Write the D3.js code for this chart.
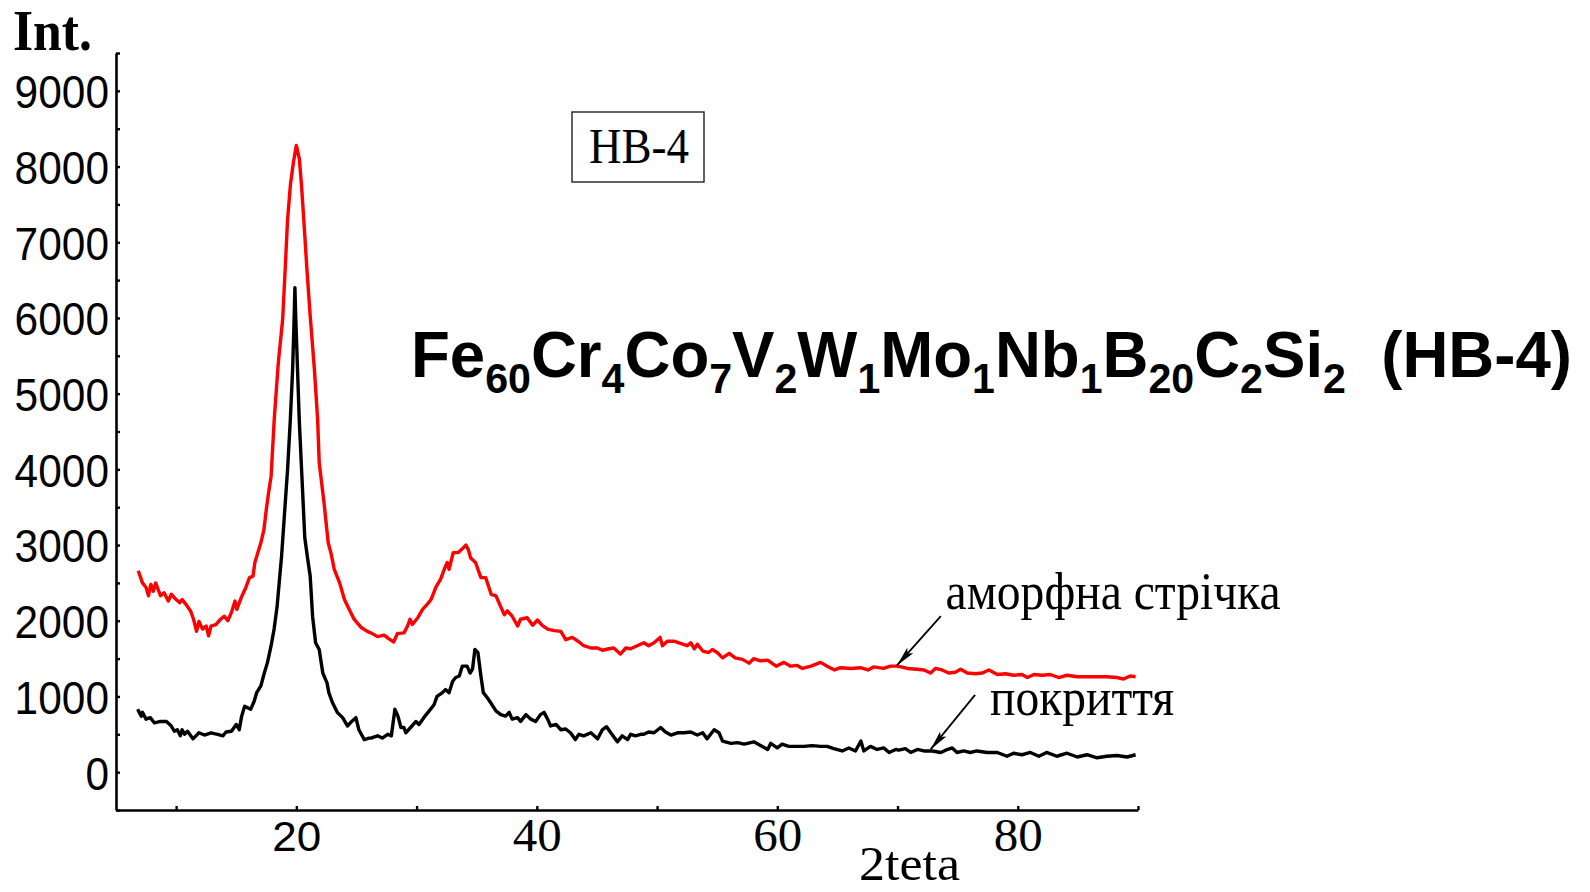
<!DOCTYPE html>
<html>
<head>
<meta charset="utf-8">
<script src="https://cdn.jsdelivr.net/npm/d3@7/dist/d3.min.js"></script>
<style>
  html, body { margin: 0; padding: 0; background: #fff; }
  svg { display: block; }
</style>
</head>
<body>
<svg id="chart" width="1590" height="892"></svg>
<script>
// XRD patterns of the Fe60Cr4Co7V2W1Mo1Nb1B20C2Si2 alloy (HB-4)
// 2theta angle, degrees
const ribbonAngle = [6.85,7.2,7.5,7.7,7.9,8.1,8.3,8.7,9.0,9.35,9.6,10.0,10.3,10.5,10.8,11.2,11.45,11.7,11.9,12.2,12.5,12.7,12.9,13.3,13.7,14.0,14.3,14.6,14.9,15.05,15.4,15.8,16.1,16.4,16.55,16.8,17.05,17.3,17.5,17.7,17.9,18.16,18.5,18.86,19.07,19.27,19.5,19.75,20.0,20.25,20.43,20.65,20.88,21.15,21.5,21.77,21.9,22.3,22.65,22.9,23.15,23.6,24.0,24.4,24.8,25.4,25.9,26.2,26.75,27.3,27.7,28.1,28.4,28.95,29.25,29.45,29.65,30.1,30.5,30.9,31.2,31.6,32.0,32.35,32.55,32.7,33.05,33.45,33.8,34.1,34.3,34.5,34.9,35.35,35.75,36.2,36.6,36.9,37.3,37.55,37.95,38.4,38.65,39.2,39.65,40.05,40.45,40.9,41.45,42.0,42.4,42.95,43.5,43.9,44.5,45.05,45.45,46.0,46.4,46.95,47.4,47.8,48.35,48.9,49.3,49.75,50.25,50.45,50.85,51.4,51.95,52.5,52.8,53.1,53.35,53.8,54.3,54.6,55.0,55.45,56.0,56.5,57.1,57.65,58.05,58.6,59.2,59.9,60.55,61.1,61.65,62.1,62.8,63.6,64.15,64.75,65.25,66.1,66.9,67.55,68.0,68.85,69.4,69.95,70.3,70.8,71.65,72.2,72.75,73.15,73.7,74.25,74.8,75.25,75.8,76.5,77.05,77.6,78.3,79.0,79.65,80.35,80.8,81.35,82.05,82.7,83.4,84.1,84.95,85.75,86.6,87.4,88.25,88.8,89.35,89.8];
// intensity of the amorphous ribbon
const ribbonInt = [2660,2500,2440,2330,2480,2390,2500,2330,2370,2260,2350,2280,2240,2280,2220,2130,2020,1860,1990,1890,1930,1800,1930,1950,2020,2060,2000,2110,2260,2150,2300,2440,2570,2590,2770,2900,3030,3200,3470,3700,3910,4660,5410,5980,6640,7300,7750,8050,8280,8100,7750,7220,6640,6030,5320,4660,4090,3560,3030,2880,2680,2500,2280,2150,2020,1910,1860,1840,1790,1810,1760,1720,1830,1840,1930,2020,1950,2040,2150,2220,2280,2440,2550,2700,2770,2680,2900,2900,2950,3000,2940,2830,2770,2570,2570,2350,2330,2220,2080,2130,2060,1930,2020,2040,1940,2010,1940,1890,1870,1860,1750,1780,1720,1670,1640,1640,1610,1630,1640,1560,1640,1630,1670,1710,1670,1710,1780,1670,1730,1730,1700,1670,1710,1630,1690,1600,1580,1620,1580,1510,1570,1510,1490,1440,1500,1470,1480,1400,1450,1400,1410,1370,1400,1450,1400,1350,1380,1370,1380,1350,1390,1370,1400,1400,1390,1370,1360,1350,1310,1370,1350,1310,1320,1360,1310,1300,1310,1350,1290,1300,1280,1290,1250,1290,1280,1290,1250,1280,1260,1260,1260,1260,1250,1230,1270,1260];

const coatingAngle = [6.8,7.1,7.2,7.5,7.85,8.2,8.7,9.2,9.6,9.85,10.1,10.35,10.5,10.7,10.95,11.4,11.9,12.35,12.9,13.45,13.9,14.15,14.6,15.0,15.25,15.45,15.7,16.2,16.5,16.7,17.05,17.3,17.6,17.9,18.15,18.4,18.6,18.77,19.0,19.27,19.5,19.69,19.8,19.88,19.95,20.05,20.24,20.46,20.7,20.93,21.15,21.35,21.6,21.9,22.2,22.55,22.7,23.0,23.4,23.85,24.25,24.6,24.95,25.2,25.65,26.05,26.2,26.75,27.15,27.6,27.9,28.2,28.45,28.7,28.95,29.1,29.5,29.95,30.2,30.6,31.05,31.45,31.7,32.15,32.4,32.7,33.0,33.25,33.55,33.8,34.2,34.45,34.65,34.85,35.1,35.35,35.55,35.9,36.15,36.6,37.0,37.4,37.7,37.95,38.4,38.65,39.1,39.5,39.9,40.3,40.6,40.9,41.15,41.6,42.0,42.4,42.8,43.2,43.5,43.9,44.5,45.05,45.45,45.8,46.15,46.7,47.1,47.55,47.8,48.2,48.65,48.9,49.3,49.75,50.3,50.7,51.15,51.7,52.25,52.8,53.35,53.8,54.15,54.75,55.15,55.45,56.15,56.7,57.25,58.05,58.75,59.2,59.45,60.0,60.4,60.95,61.65,62.2,62.9,63.6,64.15,64.7,65.4,65.95,66.5,66.95,67.2,67.75,68.3,68.85,69.3,69.85,70.1,70.65,71.1,71.65,72.2,72.9,73.6,74.0,74.55,74.95,75.5,76.05,76.6,77.45,78.3,79.1,79.65,80.35,81.05,81.75,82.4,83.25,84.1,84.95,85.75,86.6,87.4,88.25,89.1,89.8];
// intensity of the coating
const coatingInt = [830,740,790,700,720,650,670,670,610,540,560,480,560,500,540,440,520,490,520,500,480,530,540,630,560,740,870,830,940,1050,1140,1290,1450,1670,1890,2190,2550,2850,3380,4000,4660,5320,5900,6400,6000,5540,4660,3910,3100,2830,2590,2060,1710,1620,1310,1180,1050,920,790,720,610,670,720,560,430,450,450,480,450,500,480,830,740,590,590,520,590,670,630,720,810,890,1000,1050,1090,1050,1200,1250,1270,1400,1400,1310,1360,1620,1580,1270,1050,980,920,810,760,740,790,700,720,670,760,700,670,760,790,700,610,630,560,570,520,430,500,480,520,440,560,600,520,400,480,430,500,480,500,500,530,520,590,530,490,520,520,530,490,520,440,560,520,410,380,390,370,400,340,300,380,320,370,340,340,340,350,340,340,310,280,320,280,410,280,340,300,320,260,300,290,310,260,300,280,280,260,290,320,260,280,260,280,260,260,210,250,230,260,210,260,210,250,200,230,190,210,220,200,230];

const yTicks = d3.range(-500, 9501, 500);
const yLabels = [0,1000,2000,3000,4000,5000,6000,7000,8000,9000];
const xTicks = [10,20,30,40,50,60,70,80,90];
const xLabels = [20,40,60,80];

const titleParts = [["Fe","60"],["Cr","4"],["Co","7"],["V","2"],["W","1"],["Mo","1"],["Nb","1"],["B","20"],["C","2"],["Si","2"],["  (HB-4)",""]];

const SANS = "'Liberation Sans', Arial, sans-serif";
const SERIF = "'Liberation Serif', 'Times New Roman', serif";

const svg = d3.select("#chart");

const x = d3.scaleLinear().domain([5, 90]).range([116, 1138]);
const y = d3.scaleLinear().domain([-500, 9500]).range([810, 53]);

// axes
const yAxis = d3.axisLeft(y)
  .tickValues(yTicks)
  .tickSizeInner(-4)
  .tickSizeOuter(0)
  .tickPadding(7)
  .tickFormat(d => yLabels.includes(d) ? String(d) : "");

const gy = svg.append("g").attr("transform", `translate(${x(5)},0)`).call(yAxis);
gy.select(".domain").attr("stroke", "#000").attr("stroke-width", 2.6);
gy.selectAll(".tick line").attr("stroke", "#000").attr("stroke-width", 2.4);
gy.selectAll(".tick text")
  .attr("fill", "#000")
  .attr("font-family", SANS)
  .attr("font-size", 47)
  .attr("dy", "0.36em")
  .each(function(d) {
    const s = yLabels.includes(d) ? String(d) : "";
    if (s) d3.select(this).attr("textLength", s.length * 23.6).attr("lengthAdjust", "spacingAndGlyphs");
  });

const xAxis = d3.axisBottom(x)
  .tickValues(xTicks)
  .tickSizeInner(-4)
  .tickSizeOuter(0)
  .tickFormat(d => xLabels.includes(d) ? String(d) : "");

const gx = svg.append("g").attr("transform", `translate(0,${y(-500)})`).call(xAxis);
gx.select(".domain").attr("stroke", "#000").attr("stroke-width", 2.6);
gx.selectAll(".tick line").attr("stroke", "#000").attr("stroke-width", 2.4);
gx.selectAll(".tick text")
  .attr("fill", "#000")
  .attr("y", 41)
  .attr("dy", 0)
  .attr("font-family", d => d === 20 ? SANS : SERIF)
  .attr("font-size", d => d === 20 ? 42 : 47)
  .each(function(d) {
    if (xLabels.includes(d)) d3.select(this).attr("textLength", 49).attr("lengthAdjust", "spacingAndGlyphs");
  });

// axis titles
svg.append("text")
  .attr("x", 13).attr("y", 50)
  .attr("font-family", SERIF).attr("font-weight", "bold").attr("font-size", 56)
  .attr("textLength", 79).attr("lengthAdjust", "spacingAndGlyphs")
  .text("Int.");

svg.append("text")
  .attr("x", 859).attr("y", 880)
  .attr("font-family", SERIF).attr("font-size", 49)
  .attr("textLength", 101).attr("lengthAdjust", "spacingAndGlyphs")
  .text("2teta");

// curves
const line = d3.line().x(d => x(d[0])).y(d => y(d[1]));
const ribbon = ribbonAngle.map((a, i) => [a, ribbonInt[i]]);
const coating = coatingAngle.map((a, i) => [a, coatingInt[i]]);

svg.append("path").datum(ribbon)
  .attr("d", line).attr("fill", "none")
  .attr("stroke", "#ff0000").attr("stroke-width", 3.4).attr("stroke-linejoin", "round");

svg.append("path").datum(coating)
  .attr("d", line).attr("fill", "none")
  .attr("stroke", "#000").attr("stroke-width", 3.4).attr("stroke-linejoin", "round");

// sample label box
svg.append("rect")
  .attr("x", 572).attr("y", 112).attr("width", 132).attr("height", 70)
  .attr("fill", "none").attr("stroke", "#222").attr("stroke-width", 1.4);
svg.append("text")
  .attr("x", 589).attr("y", 163)
  .attr("font-family", SERIF).attr("font-size", 50)
  .attr("textLength", 100).attr("lengthAdjust", "spacingAndGlyphs")
  .text("HB-4");

// composition title, element symbols with subscript indices
const title = svg.append("text")
  .attr("x", 411).attr("y", 377)
  .attr("font-family", SANS).attr("font-weight", "bold").attr("font-size", 65)
  .attr("textLength", 1161).attr("lengthAdjust", "spacingAndGlyphs")
  .attr("xml:space", "preserve").style("white-space", "pre");
let shifted = false;
titleParts.forEach(([el, sub]) => {
  title.append("tspan").attr("dy", shifted ? -16 : 0).text(el);
  shifted = false;
  if (sub) {
    title.append("tspan").attr("dy", 16).attr("font-size", 42).text(sub);
    shifted = true;
  }
});

// curve annotations with arrows
const defs = svg.append("defs");
defs.append("marker")
  .attr("id", "arrow")
  .attr("viewBox", "0 0 20 10")
  .attr("refX", 20).attr("refY", 5)
  .attr("markerWidth", 20).attr("markerHeight", 10)
  .attr("markerUnits", "userSpaceOnUse")
  .attr("orient", "auto")
  .append("path").attr("d", "M0,1 L20,5 L0,9 L4,5 Z").attr("fill", "#000");

const notes = [
  { text: "аморфна стрічка", tx: 74.0, ty: 2160, len: 335, from: [73.6, 2060], to: [69.95, 1410] },
  { text: "покриття", tx: 77.7, ty: 760, len: 184, from: [76.45, 1020], to: [72.75, 300] }
];
notes.forEach(n => {
  svg.append("line")
    .attr("x1", x(n.from[0])).attr("y1", y(n.from[1]))
    .attr("x2", x(n.to[0])).attr("y2", y(n.to[1]))
    .attr("stroke", "#000").attr("stroke-width", 1.8)
    .attr("marker-end", "url(#arrow)");
  svg.append("text")
    .attr("x", x(n.tx)).attr("y", y(n.ty))
    .attr("font-family", SERIF).attr("font-size", 53)
    .attr("textLength", n.len).attr("lengthAdjust", "spacingAndGlyphs")
    .text(n.text);
});
</script>
</body>
</html>
